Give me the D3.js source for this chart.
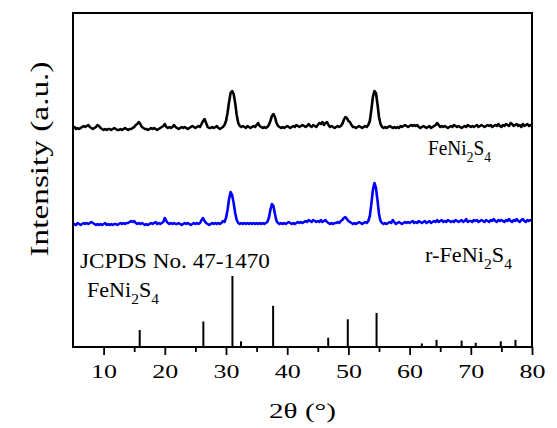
<!DOCTYPE html>
<html>
<head>
<meta charset="utf-8">
<script src="https://cdn.jsdelivr.net/npm/d3@7"></script>
<style>
  body { margin: 0; background: #fff; }
  svg { display: block; }
  text { font-family: "Liberation Serif", "Times New Roman", serif; fill: #000; }
</style>
</head>
<body>
<svg id="chart"></svg>
<script>
// XRD scan: 2theta from 5 to 80 deg, step 0.25
const scanStart = 5;
const scanStep = 0.25;

// FeNi2S4 (black), intensity above its own baseline, one row per degree (5..79), last value = 80
const feni2s4 = [
  2,3,1,2, 1,2,3,4, 3,4,5,3, 2,1,2,3, 5,4,2,1,
  0,1,0,1, 1,0,1,2, 1,0,0,1, 0,1,2,1, 0,1,1,2,
  3,5,6,8, 6,3,2,1, 1,0,1,2, 1,2,1,0, 1,2,3,4,
  6,3,2,3, 2,3,5,3, 2,1,2,3, 2,3,2,1, 2,3,4,3,
  2,3,4,3, 6,9,11,7, 3,2,2,3, 2,3,4,2, 1,2,3,5,
  9,17,28,37, 39,36,27,15, 7,4,3,4, 3,2,4,3, 2,3,4,3,
  5,7,4,3, 2,3,2,3, 5,9,14,16, 13,7,4,3, 2,3,2,3,
  4,3,2,3, 4,3,5,4, 3,4,5,4, 3,4,6,4, 3,5,4,3,
  5,7,6,8, 5,7,8,5, 3,4,3,2, 3,4,3,4, 6,10,13,12,
  9,8,5,3, 3,2,3,4, 3,2,3,4, 3,5,9,20, 33,39,37,26,
  13,6,3,2, 3,2,3,4, 3,2,3,2, 3,2,4,3, 4,5,4,3,
  4,5,4,5, 4,5,3,2, 3,4,3,2, 3,4,2,3, 4,5,7,5,
  3,4,3,4, 3,2,3,4, 3,5,4,3, 4,3,2,3, 4,3,5,4,
  3,4,3,4, 5,3,4,5, 4,3,4,5, 4,5,3,4, 5,4,6,4,
  3,5,4,6, 5,4,7,6, 4,5,6,4, 5,3,6,4, 5,6,4,5,
  4
];

// r-FeNi2S4 (blue)
const rFeni2s4 = [
  1,2,1,3, 2,1,2,3, 2,3,2,3, 4,3,2,1, 2,1,2,1,
  2,3,1,2, 1,2,1,2, 2,1,2,3, 2,3,2,3, 3,4,5,4,
  5,3,2,3, 2,3,2,1, 2,1,2,3, 2,3,4,2, 3,2,3,4,
  8,5,3,2, 3,2,3,2, 2,3,2,1, 2,3,2,3, 2,1,2,3,
  2,3,2,3, 6,8,5,3, 2,1,2,3, 2,3,2,3, 2,3,5,4,
  8,16,27,34, 31,23,13,6, 3,2,3,2, 3,2,3,2, 3,2,3,2,
  3,2,3,2, 3,2,3,4, 8,16,22,20, 12,5,3,2, 3,2,3,2,
  3,4,3,2, 3,2,3,4, 3,4,3,4, 5,4,6,5, 4,6,5,4,
  5,4,6,4, 5,6,4,3, 2,3,2,3, 3,4,3,5, 6,8,9,7,
  5,4,3,2, 3,2,3,4, 3,2,3,4, 3,5,10,22, 36,43,38,26,
  12,5,3,2, 3,2,3,4, 3,6,4,2, 3,4,3,2, 3,4,3,4,
  3,4,5,3, 4,3,5,4, 3,4,5,3, 4,5,3,4, 5,4,6,4,
  5,6,4,5, 4,6,5,4, 5,4,6,5, 4,5,6,4, 5,7,4,5,
  5,4,6,5, 6,4,5,6, 5,4,6,5, 4,6,5,7, 5,4,6,5,
  6,5,4,6, 5,7,5,4, 6,5,7,5, 4,6,7,5, 4,6,5,6,
  5
];

// vertical offsets of the two stacked patterns
const offsetFeni = 217;
const offsetRFeni = 121;

// JCPDS No. 47-1470 reference lines
const refPos = [15.9, 26.3, 31.05, 32.45, 37.7, 46.7, 49.9, 54.6, 62.0, 64.4, 68.5, 70.8, 74.9, 77.3];
const refInt = [24, 36, 100, 8, 58, 13, 39, 48, 5, 10, 9, 6, 8, 10];

const majorTicks = [10, 20, 30, 40, 50, 60, 70, 80];
const minorTicks = [15, 25, 35, 45, 55, 65, 75];

const W = 557, H = 428;
const plot = { left: 73, right: 532, top: 13, bottom: 347 };

const svg = d3.select("#chart")
  .attr("width", W)
  .attr("height", H);

svg.append("rect")
  .attr("width", W).attr("height", H)
  .attr("fill", "#fff");

const x = d3.scaleLinear()
  .domain([5, 80])
  .range([plot.left, plot.right]);

const y = d3.scaleLinear()
  .domain([0, plot.bottom - plot.top])
  .range([plot.bottom, plot.top]);

const yRef = d3.scaleLinear()
  .domain([0, 100])
  .range([plot.bottom, plot.bottom - 71]);

const twoTheta = feni2s4.map((d, i) => scanStart + i * scanStep);

const line = offset => d3.line()
  .x((d, i) => x(twoTheta[i]))
  .y(d => y(d + offset));

svg.append("path")
  .datum(feni2s4)
  .attr("fill", "none")
  .attr("stroke", "#000")
  .attr("stroke-width", 2.6)
  .attr("stroke-linejoin", "round")
  .attr("d", line(offsetFeni));

svg.append("path")
  .datum(rFeni2s4)
  .attr("fill", "none")
  .attr("stroke", "#0000ff")
  .attr("stroke-width", 2.6)
  .attr("stroke-linejoin", "round")
  .attr("d", line(offsetRFeni));

// reference sticks
svg.selectAll("line.ref")
  .data(refPos)
  .enter().append("line")
  .attr("class", "ref")
  .attr("x1", d => x(d)).attr("x2", d => x(d))
  .attr("y1", yRef(0))
  .attr("y2", (d, i) => yRef(refInt[i]))
  .attr("stroke", "#000")
  .attr("stroke-width", 2);

// x axis
const tickLabelScale = 1.37;
const xAxis = svg.append("g")
  .attr("transform", `translate(0,${plot.bottom})`)
  .call(d3.axisBottom(x).tickValues(majorTicks).tickSize(8).tickFormat(d3.format("d")));
xAxis.select(".domain").remove();
xAxis.selectAll(".tick line").attr("stroke", "#000").attr("stroke-width", 1.8);
xAxis.selectAll(".tick text")
  .attr("y", 0).attr("dy", 0)
  .attr("transform", `translate(0,30.5) scale(${tickLabelScale},1)`)
  .style("font-size", "19px")
  .style("font-family", '"Liberation Serif", serif')
  .attr("fill", "#000");

const xMinor = svg.append("g")
  .attr("transform", `translate(0,${plot.bottom})`)
  .call(d3.axisBottom(x).tickValues(minorTicks).tickSize(5).tickFormat(""));
xMinor.select(".domain").remove();
xMinor.selectAll(".tick line").attr("stroke", "#000").attr("stroke-width", 1.8);

// frame
svg.append("rect")
  .attr("x", plot.left).attr("y", plot.top)
  .attr("width", plot.right - plot.left)
  .attr("height", plot.bottom - plot.top)
  .attr("fill", "none")
  .attr("stroke", "#000")
  .attr("stroke-width", 2);

// stretch a text horizontally to a target width
function fitText(t, x0, y0, width, extra) {
  const w = t.node().getComputedTextLength();
  t.attr("transform", `translate(${x0},${y0}) ${extra || ""} scale(${width / w},1)`);
}

// axis titles
const xTitle = svg.append("text")
  .attr("text-anchor", "middle")
  .style("font-size", "20px")
  .text("2θ (°)");
fitText(xTitle, (plot.left + plot.right) / 2, 418, 67);

const yTitle = svg.append("text")
  .attr("text-anchor", "middle")
  .style("font-size", "26px")
  .text("Intensity (a.u.)");
fitText(yTitle, 48, 159, 195, "rotate(-90)");

// labels with subscripts
function formula(parts, size) {
  const t = svg.append("text").style("font-size", size + "px");
  let sub = false;
  parts.forEach(p => {
    const isSub = /^[0-9]$/.test(p);
    t.append("tspan")
      .attr("dy", isSub && !sub ? 7 : (!isSub && sub ? -7 : 0))
      .style("font-size", isSub ? (size * 0.7) + "px" : null)
      .text(p);
    sub = isSub;
  });
  return t;
}

fitText(formula(["FeNi", "2", "S", "4"], 21), 428, 155, 63);
fitText(formula(["r-FeNi", "2", "S", "4"], 20), 425, 262, 87);
fitText(svg.append("text").style("font-size", "21px").text("JCPDS No. 47-1470"), 80, 268, 190);
fitText(formula(["FeNi", "2", "S", "4"], 20), 87, 297, 72);
</script>
</body>
</html>
